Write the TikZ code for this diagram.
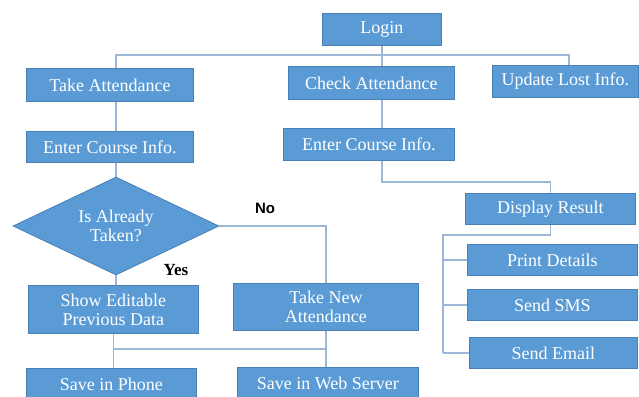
\documentclass[tikz,border=0pt]{standalone}
\usepackage{fontspec}
\setmainfont{Liberation Serif}
\newfontfamily\labelsans{Liberation Sans}
\usetikzlibrary{shapes.geometric}
\definecolor{boxfill}{HTML}{5B9BD5}
\definecolor{boxedge}{HTML}{4A7FB5}
\definecolor{linkc}{HTML}{9DB7D9}
\tikzset{
  box/.style={draw=boxedge, fill=boxfill, text=white, line width=0.8pt,
    inner sep=0pt, align=center, anchor=north west,
    font=\fontsize{18}{19}\selectfont},
  decision/.style={diamond, draw=boxedge, fill=boxfill, text=white, line width=0.8pt,
    inner sep=0pt, aspect=2.1, align=center,
    font=\fontsize{18}{18.5}\selectfont},
  link/.style={draw=linkc, line width=1.2pt},
  tag/.style={text=black, inner sep=0pt}
}
\begin{document}
\begin{tikzpicture}[x=1pt,y=-1pt]
\useasboundingbox (0,0) rectangle (639,396);
\clip (0,0) rectangle (639,396);

% boxes
\node[box, minimum width=119pt, minimum height=32pt] (login) at (322,13) {Login};
\node[box, minimum width=167pt, minimum height=33pt] (takeatt) at (26,68) {Take Attendance};
\node[box, minimum width=166pt, minimum height=33pt] (checkatt) at (288,66) {Check Attendance};
\node[box, minimum width=146pt, minimum height=32pt] (update) at (492,65) {Update Lost Info.};
\node[box, minimum width=167pt, minimum height=31pt] (enterA) at (26,131) {Enter Course Info.};
\node[box, minimum width=171pt, minimum height=32pt] (enterB) at (283,128) {Enter Course Info.};
\node[box, minimum width=170pt, minimum height=31pt] (display) at (465,193) {Display Result};
\node[box, minimum width=170pt, minimum height=31pt] (print) at (467,244) {Print Details};
\node[box, minimum width=170pt, minimum height=31pt] (sms) at (467,289) {Send SMS};
\node[box, minimum width=168pt, minimum height=31pt] (email) at (469,337) {Send Email};
\node[decision, minimum width=206pt, minimum height=98pt] (taken) at (116,226) {Is Already\\Taken?};
\node[box, minimum width=170pt, minimum height=48pt] (showedit) at (28,285) {Show Editable\\Previous Data};
\node[box, minimum width=185pt, minimum height=47pt] (takenew) at (233,283) {Take New\\Attendance};
\node[box, minimum width=170pt, minimum height=32pt] (phone) at (26,368) {Save in Phone};
\node[box, minimum width=181pt, minimum height=32pt] (web) at (237,367) {Save in Web Server};

% labels on the decision branches
\node[tag, font=\labelsans\bfseries\fontsize{15}{16}\selectfont] (nolab) at (265,208) {No};
\node[tag, font=\bfseries\fontsize{17}{18}\selectfont] (yeslab) at (176,270) {Yes};

% junction points
\coordinate (lx) at (116,55);
\coordinate (rx) at (569,55);
\coordinate (jog) at (0,182);
\coordinate (sp) at (443,235);
\coordinate (bb) at (0,349);

% top bar from Login
\draw[link] (lx |- takeatt.north) -- (lx) -- (rx) -- (rx |- update.north);
\draw[link] (login.south) -- (login.south |- checkatt.north);

% left column
\draw[link] (lx |- takeatt.south) -- (lx |- enterA.north);
\draw[link] (lx |- enterA.south) -- (taken.north);
\draw[link] (taken.south) -- (taken.south |- showedit.north);
\draw[link] (taken.east) -| (takenew.north);

% saving
\draw[link] (showedit.south) -- (showedit.south |- phone.north);
\draw[link] (takenew.south) -- (takenew.south |- web.north);
\draw[link] (showedit.south |- bb) -- (takenew.south |- bb);

% right column
\draw[link] (login.south |- checkatt.south) -- (login.south |- enterB.north);
\draw[link] (login.south |- enterB.south) -- (login.south |- jog) -| (display.north);
\draw[link] (display.south) |- (sp) -- (sp |- email.west);
\draw[link] (sp |- print.west) -- (print.west);
\draw[link] (sp |- sms.west) -- (sms.west);
\draw[link] (sp |- email.west) -- (email.west);
\end{tikzpicture}
\end{document}
